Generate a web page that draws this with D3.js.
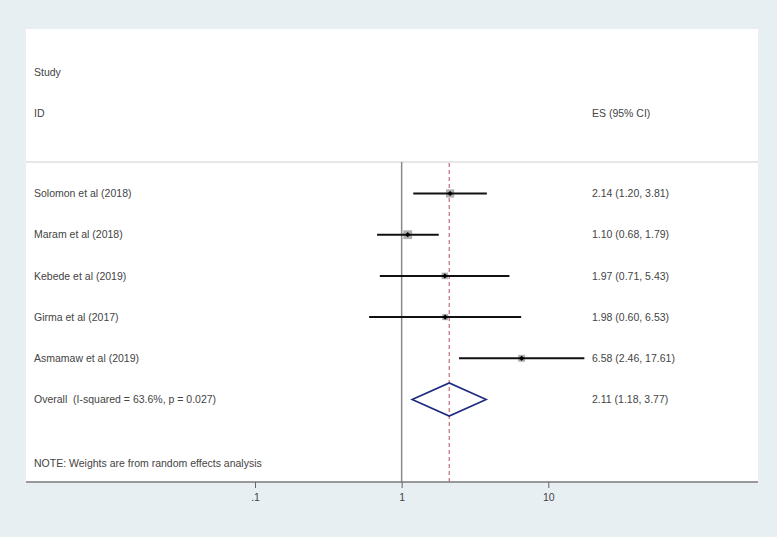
<!DOCTYPE html>
<html>
<head>
<meta charset="utf-8">
<script src="https://cdn.jsdelivr.net/npm/d3@7"></script>
<style>
  html, body { margin: 0; padding: 0; background: #ffffff; }
  svg { display: block; }
  text { font-family: "Liberation Sans", Arial, sans-serif; white-space: pre; }
</style>
</head>
<body>
<svg id="chart" width="778" height="539"></svg>
<script>
// ---- Data ----
const studies = ["Solomon et al (2018)", "Maram et al (2018)", "Kebede et al (2019)", "Girma et al (2017)", "Asmamaw et al (2019)"];
const es      = [2.14, 1.10, 1.97, 1.98, 6.58];
const ciLow   = [1.20, 0.68, 0.71, 0.60, 2.46];
const ciHigh  = [3.81, 1.79, 5.43, 6.53, 17.61];
const weights = [24.8, 28.5, 15.7, 13.6, 17.4];
const overallLabel = "Overall  (I-squared = 63.6%, p = 0.027)";
const overall = [2.11, 1.18, 3.77]; // ES, low, high
const tickValues = [0.1, 1, 10];
const tickLabels = [".1", "1", "10"];
const noteText = "NOTE: Weights are from random effects analysis";

// ---- Layout ----
const panel = {x0: 26, x1: 758, y0: 29, y1: 482};
const svg = d3.select("#chart");
const fmt = d3.format(".2f");
const txtColor = "#444444";
const fs = "10.5px";

svg.append("rect").attr("x", 0).attr("y", 0).attr("width", 777).attr("height", 537).attr("fill", "#e8eff2");
svg.append("rect").attr("x", panel.x0).attr("y", panel.y0)
   .attr("width", panel.x1 - panel.x0).attr("height", panel.y1 - panel.y0).attr("fill", "#ffffff");

const x = d3.scaleLog().domain([0.1, 10]).range([255, 548.3]);
const rowY = d3.scaleLinear().domain([0, 1]).range([193.5, 234.7]);
const textX = 34, esX = 592;
const sepY = 162;

// separator line
svg.append("line").attr("x1", panel.x0).attr("x2", panel.x1).attr("y1", sepY).attr("y2", sepY)
   .attr("stroke", "#cfcfcf").attr("stroke-width", 1);

// headers
const hdr = svg.append("g").attr("fill", txtColor).attr("font-size", fs);
hdr.append("text").attr("x", textX).attr("y", 72).attr("dy", "0.35em").text("Study");
hdr.append("text").attr("x", textX).attr("y", 113).attr("dy", "0.35em").text("ID");
hdr.append("text").attr("x", esX).attr("y", 113).attr("dy", "0.35em").text("ES (95% CI)");

// no-effect line at 1
svg.append("line").attr("x1", x(1)).attr("x2", x(1)).attr("y1", sepY).attr("y2", panel.y1)
   .attr("stroke", "#8a8a8a").attr("stroke-width", 1.5);

// overall dashed line
svg.append("line").attr("x1", x(overall[0])).attr("x2", x(overall[0])).attr("y1", 163).attr("y2", panel.y1)
   .attr("stroke", "#b5505a").attr("stroke-width", 1).attr("stroke-dasharray", "4,3");

// study rows
const g = svg.append("g");
studies.forEach((s, i) => {
  const y = rowY(i);
  g.append("text").attr("x", textX).attr("y", y).attr("dy", "0.35em")
    .attr("fill", txtColor).attr("font-size", fs).text(s);
  g.append("text").attr("x", esX).attr("y", y).attr("dy", "0.35em")
    .attr("fill", txtColor).attr("font-size", fs)
    .text(`${fmt(es[i])} (${fmt(ciLow[i])}, ${fmt(ciHigh[i])})`);
  const side = 1.65 * Math.sqrt(weights[i]);
  g.append("rect").attr("x", x(es[i]) - side / 2).attr("y", y - side / 2)
    .attr("width", side).attr("height", side).attr("fill", "#b0b0b0");
  g.append("line").attr("x1", x(ciLow[i])).attr("x2", x(ciHigh[i])).attr("y1", y).attr("y2", y)
    .attr("stroke", "#111").attr("stroke-width", 2);
  g.append("path")
    .attr("d", `M${x(es[i])},${y - 2.6}L${x(es[i]) + 2.6},${y}L${x(es[i])},${y + 2.6}L${x(es[i]) - 2.6},${y}Z`)
    .attr("fill", "#000");
});

// overall row
const oy = rowY(studies.length);
g.append("text").attr("x", textX).attr("y", oy).attr("dy", "0.35em")
  .attr("fill", txtColor).attr("font-size", fs).text(overallLabel);
g.append("text").attr("x", esX).attr("y", oy).attr("dy", "0.35em")
  .attr("fill", txtColor).attr("font-size", fs)
  .text(`${fmt(overall[0])} (${fmt(overall[1])}, ${fmt(overall[2])})`);
const dh = 16.5;
g.append("path")
  .attr("d", `M${x(overall[1])},${oy}L${x(overall[0])},${oy - dh}L${x(overall[2])},${oy}L${x(overall[0])},${oy + dh}Z`)
  .attr("fill", "none").attr("stroke", "#1c2a80").attr("stroke-width", 1.6);

// note
g.append("text").attr("x", textX).attr("y", 463).attr("dy", "0.35em")
  .attr("fill", txtColor).attr("font-size", fs).text(noteText);

// axis
svg.append("line").attr("x1", panel.x0).attr("x2", panel.x1).attr("y1", panel.y1).attr("y2", panel.y1)
   .attr("stroke", "#7a7a7a").attr("stroke-width", 1.5);
const axis = d3.axisBottom(x).tickValues(tickValues).tickSize(6).tickPadding(6)
  .tickFormat((d, i) => tickLabels[i]);
const ax = svg.append("g").attr("transform", `translate(0,${panel.y1})`).call(axis);
ax.select(".domain").remove();
ax.selectAll(".tick line").attr("stroke", "#666").attr("stroke-width", 1);
ax.selectAll(".tick text").attr("fill", txtColor).attr("font-size", fs)
  .attr("font-family", "Liberation Sans, Arial, sans-serif");
</script>
</body>
</html>
